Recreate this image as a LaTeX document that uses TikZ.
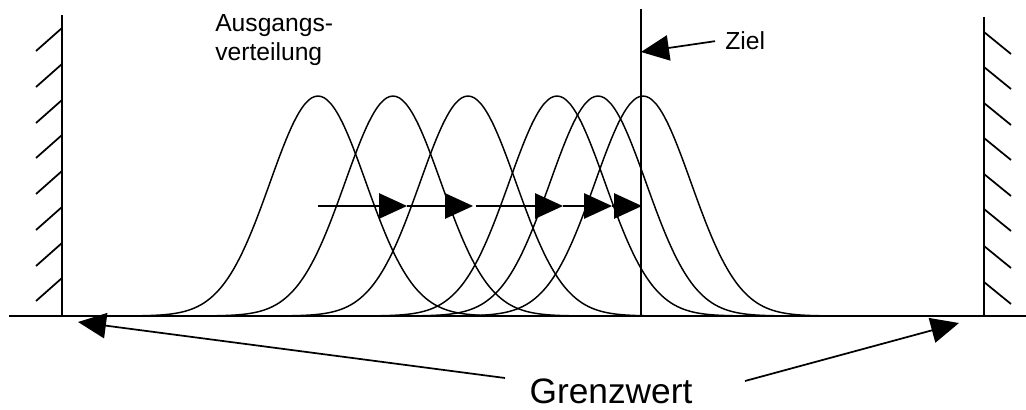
\documentclass[tikz,border=0pt]{standalone}
\usepackage{fontspec}
\setmainfont{Liberation Sans}
\usetikzlibrary{arrows.meta}

\begin{document}
\begin{tikzpicture}[x=0.75pt, y=-0.75pt, every node/.style={inner sep=0pt},
    linie/.style={line width=1.3pt},
    kurve/.style={line width=1.1pt},
    pfeil/.style={line width=1.3pt, -{Triangle[length=21pt, width=19pt]}},
    schrift/.style={font=\fontsize{18.5}{22}\selectfont}]
  \useasboundingbox (0,0) rectangle (1026,410);
  \def\sig{48}   % Streuung
  \def\hoehe{220}
  \def\basis{316}
  % Boden und Waende
  \draw[linie] (9,\basis) -- (1026,\basis);
  \draw[linie] (62,15) -- (62,\basis);
  \draw[linie] (984,17) -- (984,\basis);
  \foreach \y in {28,64,100,135,171,207,243,278}
    \draw[linie] (62,\y) -- (36,\y+23);
  \foreach \y in {32,67,103,138,174,209,246,282}
    \draw[linie] (984,\y) -- (1011,\y+22);
  % Verteilungen
  \foreach \m in {318,393,468,557,598,643}
    \draw[kurve] plot[domain=-190:190, samples=61, smooth]
      ({\m+\x}, {\basis-\hoehe*exp(-0.5*((\x/\sig)^2))});
  % Ziel
  \coordinate (zo) at (641,9);
  \coordinate (zu) at (641,\basis);
  \coordinate (zp) at (641,52);
  \draw[linie] (zo) -- (zu);
  \node[schrift, anchor=base west] (ziel) at (725,50) {Ziel};
  \draw[pfeil] ([xshift=-7.5pt]ziel.west) -- (zp);
  % Ausgangsverteilung
  \node[schrift, align=left, anchor=north west] (ausgang) at (215,14)
       {Ausgangs-\\verteilung};
  % Verschiebung
  \coordinate (p0) at (318,206);
  \coordinate (p1) at (407,206);
  \coordinate (p2) at (473,206);
  \coordinate (p3) at (476,206);
  \coordinate (p4) at (563,206);
  \coordinate (p5) at (612,206);
  \coordinate (p6) at (642,206);
  \draw[pfeil] (p0) -- (p1);
  \draw[pfeil] (p1) -- (p2);
  \draw[pfeil] (p3) -- (p4);
  \draw[pfeil] (p4) -- (p5);
  \draw[pfeil] (p5) -- (p6);
  % Grenzwert
  \node[font=\fontsize{26.5}{30}\selectfont, anchor=base] (gw) at (611,403) {Grenzwert};
  \coordinate (gl) at (505,378);
  \coordinate (gr) at (745,381);
  \coordinate (gwl) at (78,322);
  \coordinate (gwr) at (959,323);
  \draw[pfeil] (gl) -- (gwl);
  \draw[pfeil] (gr) -- (gwr);
\end{tikzpicture}
\end{document}
